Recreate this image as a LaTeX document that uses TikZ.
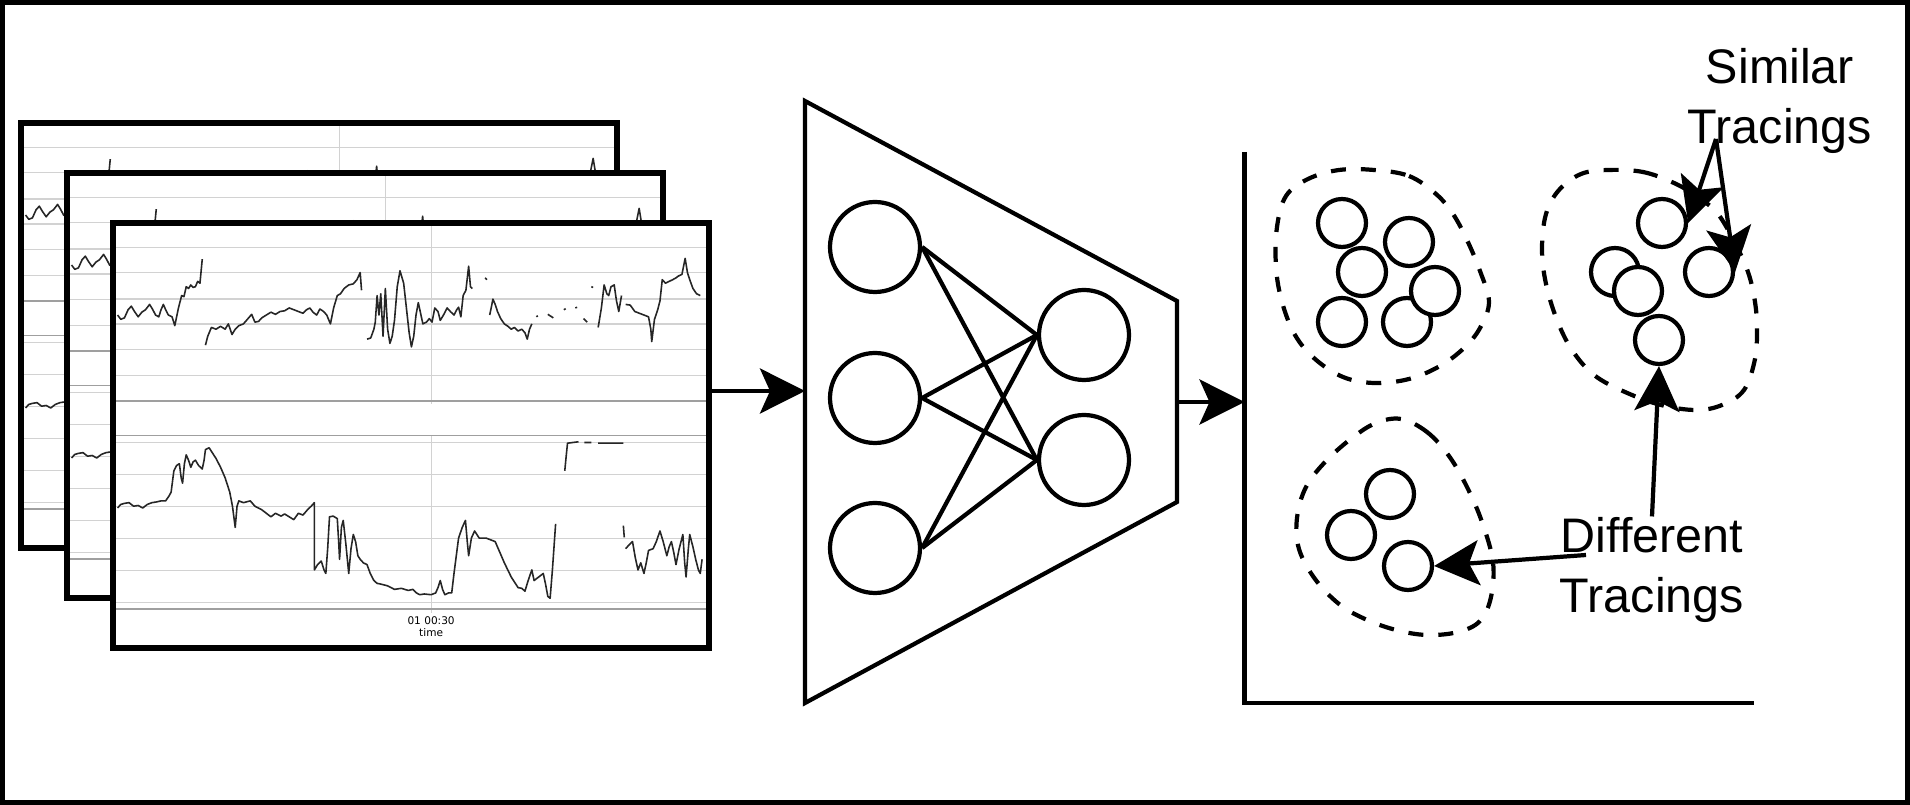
\documentclass[tikz,border=0pt]{standalone}
\usepackage{fontspec}
\setmainfont{Liberation Sans}
\newfontfamily\plotfont{DejaVu Sans}
\usetikzlibrary{arrows.meta}

% one recorded tracing, drawn in the pixel grid of the plot image
\newcommand{\tracingplot}[1]{%
\foreach \gy in {410,480,555,625,698,770,960,1050,1140,1232,1322,1412}
  \draw[gridline] (245,\gy) -- (1545,\gy);
\draw[gridline] (940,340) -- (940,850);
\draw[gridline] (940,940) -- (940,1442);
\foreach \gy in {843,940,1430}
  \draw[axisline] (245,\gy) -- (1545,\gy);
\node[ticktext] (tick#1) at (940,1462) {01 00:30};
\node[ticktext] (time#1) at (940,1498) {time};
% upper trace
\draw[trace] plot coordinates {(255,600) (262,612) (270,608) (278,585) (285,575) (292,590) (300,605) (308,592) (316,585) (325,570) (332,585) (338,600) (345,605) (350,585) (355,570) (360,585) (366,600) (374,605) (380,630) (388,580) (395,545) (400,548) (405,520) (410,525) (415,515) (420,522) (425,520) (430,505) (435,510) (440,442)};
\draw[trace] plot coordinates {(447,685) (452,660) (460,635) (470,640) (480,632) (490,640) (497,625) (505,655) (512,640) (520,630) (530,625) (540,610) (548,598) (555,620) (563,618) (570,608) (580,600) (590,592) (600,598) (610,590) (620,588) (630,580) (640,585) (650,590) (660,595) (668,585) (675,580) (682,592) (690,600) (697,583) (705,590) (712,600) (720,625) (727,580) (735,545) (742,540) (750,525) (760,515) (770,512) (778,500) (785,480) (788,530)};
\draw[trace] plot coordinates {(800,668) (808,665) (815,640) (818,620) (822,545) (826,600) (830,540) (835,660) (840,525) (845,640) (850,680) (855,660) (860,615) (866,520) (872,475) (880,510) (886,580) (892,650) (897,690) (902,660) (907,600) (912,565) (917,595) (922,625) (930,620) (936,610) (942,620) (948,580) (955,590) (960,615) (967,600) (975,580) (982,590) (990,600) (996,585) (1000,578) (1005,605) (1010,545) (1016,530) (1022,462) (1026,520) (1030,525)};
\draw[trace] (1058,495) -- (1062,500);
\draw[trace] plot coordinates {(1068,600) (1072,575) (1075,555) (1080,570) (1085,590) (1092,610) (1100,625) (1108,632) (1115,640) (1122,635) (1130,645) (1138,640) (1145,650) (1150,668) (1155,640) (1160,625)};
\draw[trace] (1170,605) -- (1173,602) (1195,598) -- (1207,608) (1230,585) -- (1234,582)
  (1255,580) -- (1259,578) (1273,610) -- (1281,620) (1290,520) -- (1294,522);
\draw[trace] plot coordinates {(1305,635) (1312,580) (1318,515) (1324,540) (1328,545) (1333,520) (1340,515) (1345,560) (1350,590) (1356,545)};
\draw[trace] plot coordinates {(1365,570) (1375,572) (1385,590) (1395,595) (1405,600) (1415,605) (1420,640) (1422,675) (1428,612) (1435,585) (1440,560) (1445,500) (1452,510) (1460,505) (1468,500) (1475,495) (1480,490) (1488,485) (1495,440) (1500,480) (1505,500) (1512,525) (1520,540) (1528,545)};
% lower trace
\draw[trace] plot coordinates {(255,1145) (262,1135) (270,1132) (280,1130) (290,1140) (300,1138) (310,1145) (320,1135) (330,1130) (340,1128) (350,1125) (360,1125) (368,1110) (372,1100) (378,1040) (384,1025) (390,1020) (394,1060) (397,1075) (401,1020) (405,995) (410,1010) (415,1030) (420,1015) (425,1010) (432,1025) (440,1035) (444,1010) (447,980) (455,975) (460,985) (470,1005) (480,1030) (490,1060) (500,1100) (506,1140) (512,1200) (516,1140) (520,1125) (530,1130) (545,1125) (555,1140) (570,1150) (580,1160) (590,1170) (600,1160) (612,1168) (620,1162) (630,1170) (640,1178) (650,1160) (660,1165) (670,1150) (678,1140) (685,1130) (685,1320) (692,1305) (700,1295) (706,1320) (710,1330) (714,1260) (718,1170) (726,1168) (735,1175) (738,1240) (740,1290) (744,1200) (748,1180) (754,1250) (760,1330) (765,1260) (770,1220) (775,1240) (780,1280) (785,1290) (792,1300) (800,1305) (807,1330) (815,1350) (822,1358) (830,1360) (845,1365) (860,1375) (875,1372) (890,1378) (900,1375) (908,1385) (915,1390) (925,1388) (940,1390) (950,1385) (955,1370) (960,1350) (965,1375) (970,1390) (978,1385) (985,1385) (990,1330) (1000,1230) (1008,1200) (1015,1180) (1019,1240) (1022,1280) (1028,1230) (1035,1210) (1045,1230) (1060,1230) (1070,1235) (1080,1240) (1090,1270) (1100,1300) (1115,1340) (1130,1370) (1138,1372) (1145,1380) (1152,1350) (1160,1320) (1165,1350) (1175,1340) (1185,1330) (1190,1360) (1195,1395) (1200,1400) (1205,1320) (1212,1190)};
\draw[trace] plot coordinates {(1232,1040) (1235,1000) (1238,962) (1250,960) (1262,958)};
\draw[trace] (1275,960) -- (1290,960) (1305,962) -- (1360,962) (1360,1195) -- (1362,1228);
\draw[trace] plot coordinates {(1365,1260) (1372,1250) (1380,1240) (1386,1285) (1392,1320) (1398,1300) (1405,1330) (1410,1300) (1415,1265) (1425,1260) (1432,1240) (1440,1210) (1447,1240) (1455,1280) (1460,1255) (1465,1240) (1470,1270) (1475,1305) (1482,1260) (1490,1220) (1494,1300) (1497,1340) (1502,1260) (1505,1220) (1512,1255) (1518,1290) (1524,1320) (1528,1330) (1532,1290)};
}

\begin{document}
\begin{tikzpicture}[
  panel/.style={fill=white, minimum width=5.96cm, minimum height=4.25cm, inner sep=0pt, outer sep=0pt},
  plotarea/.style={x=0.004585cm, y=-0.0035417cm, shift={(-245,-340)}},
  gridline/.style={gray!35, line width=0.35pt},
  axisline/.style={gray!75, line width=0.45pt},
  trace/.style={black!85, line width=0.45pt, line join=round},
  ticktext/.style={font=\plotfont\fontsize{3}{3.6}\selectfont, inner sep=0pt},
  shapeline/.style={line width=1.2pt, line join=miter},
  neuron/.style={draw, circle, line width=1.2pt, minimum size=0.9cm, inner sep=0pt},
  point/.style={draw, circle, fill=white, line width=1.2pt, minimum size=0.48cm, inner sep=0pt},
  cluster/.style={line width=1.2pt, dash pattern=on 0.15cm off 0.15cm},
  arr/.style={-{Stealth[length=4.5mm, width=4.5mm, inset=1mm]}, line width=1.2pt},
  notetext/.style={align=center, inner sep=0pt, font=\fontsize{13.8}{17.2}\selectfont}]
\useasboundingbox (0,0) rectangle (19.1,8.05);
\draw[line width=0.05cm] (0.025,0.025) rectangle (19.075,8.025);

% stacked tracings
\foreach \i/\px/\py in {1/0.21/6.82, 2/0.67/6.32, 3/1.13/5.82} {
  \node[panel, anchor=north west] (p\i) at (\px,\py) {};
  \begin{scope}[shift={(p\i.north west)}, plotarea]
    \tracingplot{\i}
  \end{scope}
  \draw[line width=1.5pt] (p\i.north west) rectangle (p\i.south east);
}

% encoder
\coordinate (enctl) at (8.05,7.04);
\coordinate (enctr) at (11.77,5.04);
\coordinate (encbr) at (11.77,3.03);
\coordinate (encbl) at (8.05,1.02);
\draw[shapeline] (enctl) -- (enctr) -- (encbr) -- (encbl) -- cycle;
\coordinate (encin) at (8.05,4.14);
\coordinate (encout) at (11.77,4.03);
\foreach \n/\y in {1/5.58, 2/4.07, 3/2.57}
  \node[neuron] (in\n) at (8.75,\y) {};
\foreach \m/\y in {1/4.70, 2/3.45}
  \node[neuron] (hid\m) at (10.84,\y) {};
\foreach \n in {1,2,3}
  \foreach \m in {1,2}
    \draw[line width=1.2pt] (in\n.east) -- (hid\m.west);
\draw[arr] (p3.east |- encin) -- (encin);

% embedding space
\coordinate (axtop) at (12.445,6.53);
\coordinate (axorig) at (12.445,1.02);
\coordinate (axend) at (17.54,1.02);
\draw[line width=1.2pt] (axtop) -- (axorig) -- (axend);
\draw[arr] (encout) -- (encout -| axorig);

\draw[cluster] plot[smooth cycle, tension=0.6] coordinates {(13.74,6.35) (14.09,6.29) (14.36,6.11) (14.53,5.91) (14.67,5.65) (14.80,5.34) (14.89,5.03) (14.80,4.77) (14.64,4.57) (14.40,4.39) (14.09,4.26) (13.74,4.22) (13.43,4.28) (13.15,4.46) (12.95,4.70) (12.82,5.03) (12.76,5.38) (12.77,5.78) (12.86,6.09) (13.08,6.26) (13.39,6.35)};
\draw[cluster] plot[smooth cycle, tension=0.6] coordinates {(16.08,6.35) (16.43,6.33) (16.74,6.22) (16.96,6.09) (17.18,5.91) (17.38,5.56) (17.49,5.30) (17.55,5.03) (17.57,4.77) (17.55,4.46) (17.44,4.15) (17.22,4.00) (16.96,3.95) (16.61,4.00) (16.25,4.13) (15.94,4.30) (15.72,4.55) (15.57,4.85) (15.46,5.21) (15.42,5.56) (15.46,5.91) (15.59,6.15) (15.81,6.31)};
\draw[cluster] plot[smooth cycle, tension=0.6] coordinates {(14.01,3.86) (14.27,3.73) (14.49,3.49) (14.67,3.18) (14.82,2.83) (14.93,2.43) (14.91,2.08) (14.80,1.84) (14.58,1.73) (14.27,1.70) (13.96,1.75) (13.65,1.86) (13.39,2.01) (13.15,2.26) (12.99,2.56) (12.97,2.87) (13.06,3.18) (13.26,3.44) (13.52,3.67) (13.76,3.82)};

\foreach \k/\x/\y in {a/13.42/5.82, b/14.09/5.63, c/13.62/5.33, d/13.42/4.83, e/14.07/4.83, f/14.35/5.14}
  \node[point] (c1\k) at (\x,\y) {};
\foreach \k/\x/\y in {a/16.62/5.82, b/16.15/5.33, c/16.38/5.14, d/17.09/5.33, e/16.59/4.65}
  \node[point] (c2\k) at (\x,\y) {};
\foreach \k/\x/\y in {a/13.90/3.11, b/13.51/2.70, c/14.08/2.39}
  \node[point] (c3\k) at (\x,\y) {};

% labels
\node[notetext] (sim) at (17.80,7.04) {Similar\\Tracings};
\node[notetext] (diff) at (16.52,2.35) {Different\\Tracings};
\coordinate (simfrom) at (17.16,6.66);
\coordinate (difffrom) at (15.86,2.50);
\draw[arr] (simfrom) -- (c2a.east);
\draw[arr] (simfrom) -- (c2d.east);
\draw[arr] (diff.north) -- (c2e.south);
\draw[arr] (difffrom) -- (c3c.east);
\end{tikzpicture}
\end{document}
